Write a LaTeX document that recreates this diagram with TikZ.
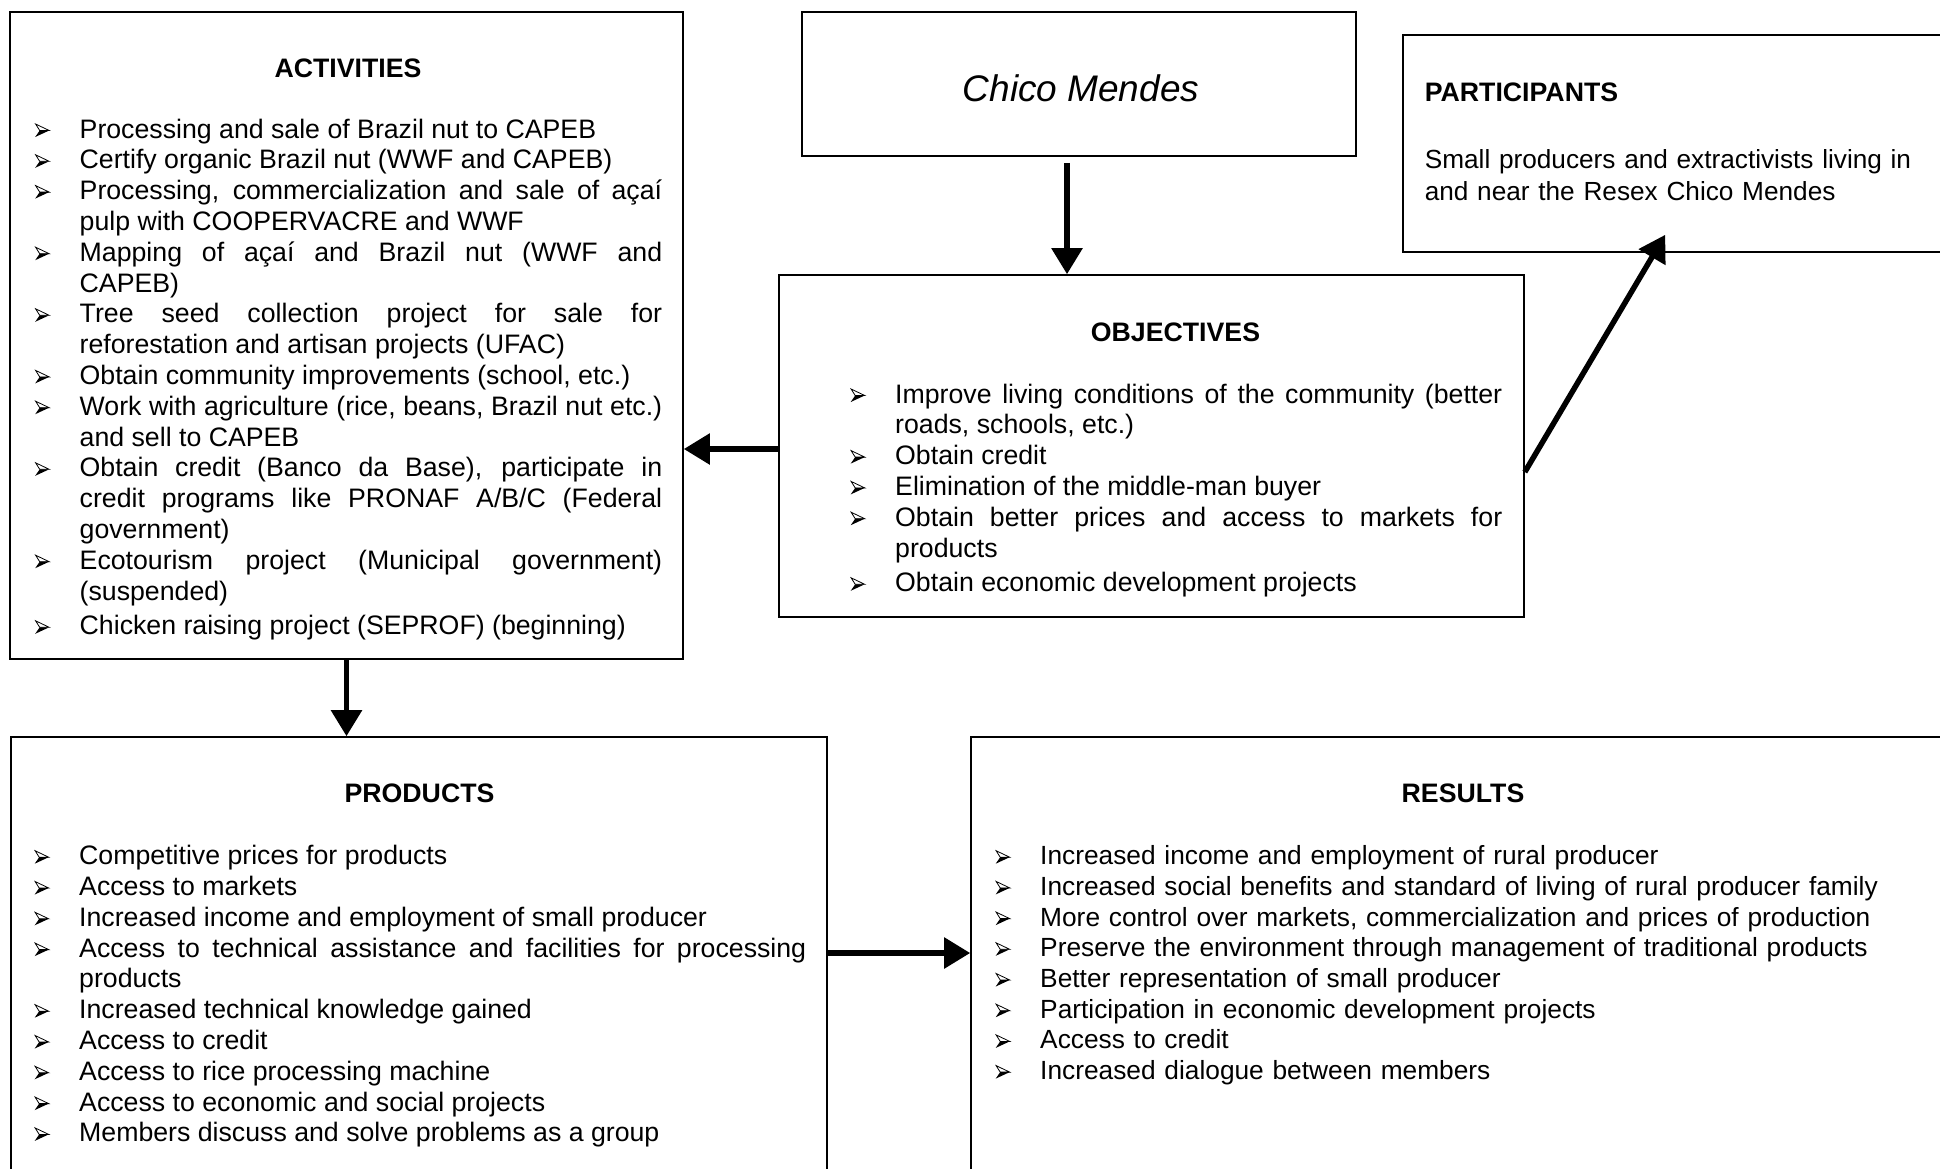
\documentclass[tikz,border=0pt]{standalone}
\usepackage{fontspec}
\setmainfont{Liberation Sans}
\usetikzlibrary{arrows.meta,calc}

% body text sizes
\newcommand{\bodysize}{\fontsize{26.7}{30.8}\selectfont}
\newcommand{\smallbody}{\fontsize{26.3}{30.7}\selectfont}
% arrowhead bullet: outlined upper half, solid lower half
\newcommand{\bul}{\tikz[x=1pt,y=1pt,baseline=0pt,line join=miter]{%
  \fill (0,1) -- (14,7.5) -- (4.5,7.5) -- cycle;
  \draw[line width=0.8pt] (0.4,14) -- (14,7.5) -- (4.5,7.5) -- cycle;}}
% one bulleted entry with a hanging indent
\newcommand{\itm}[1]{\noindent\hangindent=46pt\hangafter=1\makebox[46pt][l]{\hspace{1.5pt}\bul}#1\par}

\begin{document}
\begin{tikzpicture}[x=1pt,y=-1pt,
  every node/.style={font=\bodysize},
  box/.style={draw, line width=1.6pt, rectangle, inner sep=0pt},
  ttl/.style={font=\bodysize\bfseries, anchor=base, inner sep=0pt},
  lst/.style={anchor=base west, inner sep=0pt, align=justify,
    execute at begin node={\hyphenpenalty=10000\exhyphenpenalty=10000\tolerance=9999\hbadness=10000}},
  arr/.style={line width=5.5pt, -{Triangle[length=26pt,width=30pt]}},
]
\useasboundingbox (0,0) rectangle (1940,1168);
\clip (0,0) rectangle (1940,1168);

% frames
\node[box, minimum width=673pt, minimum height=647pt] (act) at (346.5,335.5) {};
\node[box, minimum width=554pt, minimum height=144pt] (chico) at (1079,84) {};
\node[box, minimum width=745pt, minimum height=342pt] (obj) at (1151.5,446) {};
\node[box, minimum width=587pt, minimum height=217pt] (part) at (1696.5,143.5) {};
\node[box, minimum width=816pt, minimum height=443pt] (prod) at (419,958.5) {};
\node[box, minimum width=1019pt, minimum height=443pt] (res) at (1480.5,958.5) {};

% Chico Mendes
\node[anchor=base, inner sep=0pt, font=\fontsize{37}{40}\selectfont\itshape] (chicoT) at (1081,101) {Chico Mendes};

% activities
\node[ttl] (actT) at (348,77.5) {ACTIVITIES};
\node[lst, text width=628.5pt] (actL) at (33.5,138) {%
\itm{Processing and sale of Brazil nut to CAPEB}
\itm{Certify organic Brazil nut (WWF and CAPEB)}
\itm{Processing, commercialization and sale of açaí \linebreak pulp with COOPERVACRE and WWF}
\itm{Mapping of açaí and Brazil nut (WWF and \linebreak CAPEB)}
\itm{Tree seed collection project for sale for \linebreak reforestation and artisan projects (UFAC)}
\itm{Obtain community improvements (school, etc.)}
\itm{Work with agriculture (rice, beans, Brazil nut etc.) \linebreak and sell to CAPEB}
\itm{Obtain credit (Banco da Base), participate in \linebreak credit programs like PRONAF A/B/C (Federal \linebreak government)}
\itm{Ecotourism project (Municipal government) \linebreak (suspended)}
\vspace{4pt}
\itm{Chicken raising project (SEPROF) (beginning)}};

% objectives
\node[ttl] (objT) at (1175.5,341.5) {OBJECTIVES};
\node[lst, text width=653pt] (objL) at (849,403) {%
\itm{Improve living conditions of the community (better \linebreak roads, schools, etc.)}
\itm{Obtain credit}
\itm{Elimination of the middle-man buyer}
\itm{Obtain better prices and access to markets for \linebreak products}
\vspace{4pt}
\itm{Obtain economic development projects}};

% participants
\node[anchor=base west, inner sep=0pt, font=\fontsize{26.7}{30.8}\selectfont\bfseries] (partT) at (1424.6,101.5) {PARTICIPANTS};
\node[anchor=base west, inner sep=0pt, text width=540pt, align=left, font=\fontsize{26.2}{32}\selectfont] (partL) at (1424.6,168)
  {Small producers and extractivists living in\\ and near the Resex Chico Mendes};

% products
\node[ttl] (prodT) at (419.5,802.5) {PRODUCTS};
\node[lst, text width=773pt] (prodL) at (33,864.7) {%
\itm{Competitive prices for products}
\itm{Access to markets}
\itm{Increased income and employment of small producer}
\itm{Access to technical assistance and facilities for processing \linebreak products}
\itm{Increased technical knowledge gained}
\itm{Access to credit}
\itm{Access to rice processing machine}
\itm{Access to economic and social projects}
\itm{Members discuss and solve problems as a group}};

% results
\node[ttl] (resT) at (1463,802.5) {RESULTS};
\node[lst, text width=920pt, align=left, font=\smallbody] (resL) at (994,864.7) {%
\itm{Increased income and employment of rural producer}
\itm{Increased social benefits and standard of living of rural producer family}
\itm{More control over markets, commercialization and prices of production}
\itm{Preserve the environment through management of traditional products}
\itm{Better representation of small producer}
\itm{Participation in economic development projects}
\itm{Access to credit}
\itm{Increased dialogue between members}};

% connectors
\draw[arr, shorten <=6pt] ([xshift=-12pt]chico.south) -- ([xshift=-12pt]chico.south |- obj.north);
\draw[arr] ([yshift=-3pt]obj.west) -- ([yshift=-3pt]obj.west -| act.east);
\draw[arr] (act.south) -- (act.south |- prod.north);
\draw[arr] ([yshift=5.5pt]prod.east) -- ([yshift=5.5pt]prod.east -| res.west);
\draw[arr] ([yshift=-26pt]obj.east) -- ($(part.south west)+(263,-18)$);
\end{tikzpicture}
\end{document}
